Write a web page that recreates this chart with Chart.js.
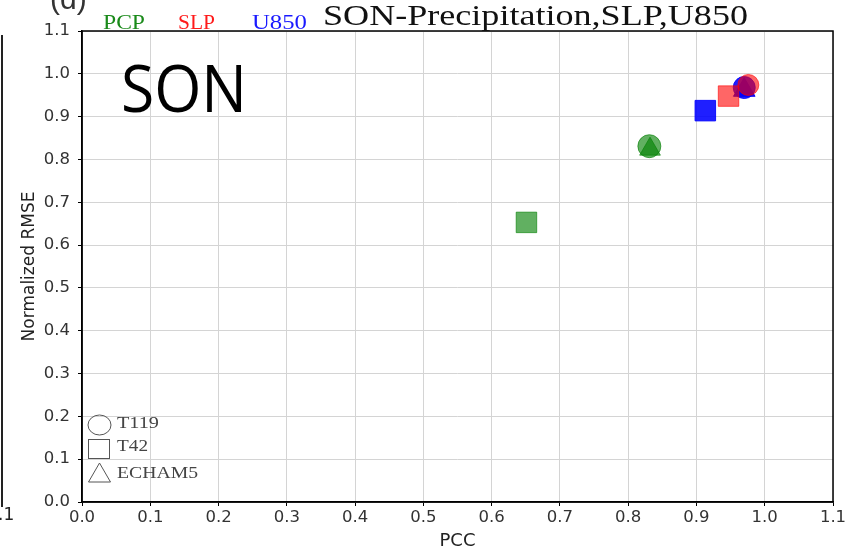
<!DOCTYPE html>
<html>
<head>
<meta charset="utf-8">
<script src="https://cdn.jsdelivr.net/npm/chart.js@4/dist/chart.umd.min.js"></script>
<style>
  html, body { margin: 0; padding: 0; background: #fff; }
  #wrap { width: 852px; height: 556px; position: relative; }
</style>
</head>
<body>
<div id="wrap"><canvas id="chart" width="852" height="556"></canvas></div>
<script>
// model order: T119, T42, ECHAM5
const models = ['T119', 'T42', 'ECHAM5'];
const modelShapes = ['circle', 'rect', 'triangle'];
const variables = ['PCP', 'SLP', 'U850'];

const pccPCP = [0.831, 0.651, 0.832];
const rmsePCP = [0.831, 0.653, 0.824];
const pccSLP = [0.976, 0.947, 0.970];
const rmseSLP = [0.974, 0.948, 0.962];
const pccU850 = [0.970, 0.913, 0.970];
const rmseU850 = [0.968, 0.914, 0.962];

const axisTicks = [0, 0.1, 0.2, 0.3, 0.4, 0.5, 0.6, 0.7, 0.8, 0.9, 1.0, 1.1];

const varColors = {
    PCP: 'rgba(0,128,0,0.62)',
    SLP: 'rgba(255,0,0,0.6)',
    U850: 'rgba(0,0,255,0.88)'
};
const textColors = { PCP: '#1a8a1a', SLP: '#ff1a1a', U850: '#1a1aff' };

function series(name, pcc, rmse, idx, radius) {
    return {
        label: name + ' ' + models[idx],
        data: [{ x: pcc[idx], y: rmse[idx] }],
        pointStyle: modelShapes[idx],
        pointRadius: radius,
        backgroundColor: varColors[name],
        borderColor: varColors[name],
        borderWidth: 1
    };
}

// drawing order follows the overlaps seen in the figure
const datasets = [
    series('PCP', pccPCP, rmsePCP, 1, 14.5),
    series('PCP', pccPCP, rmsePCP, 0, 11.5),
    series('PCP', pccPCP, rmsePCP, 2, 12),
    series('U850', pccU850, rmseU850, 1, 14.5),
    series('SLP', pccSLP, rmseSLP, 1, 14.5),
    series('SLP', pccSLP, rmseSLP, 0, 10.5),
    series('U850', pccU850, rmseU850, 0, 11),
    series('U850', pccU850, rmseU850, 2, 12.5),
    series('SLP', pccSLP, rmseSLP, 2, 11.5)
];

// draws text squeezed or stretched to a given width
function fitText(ctx, text, x, y, width) {
    const w = ctx.measureText(text).width;
    ctx.save();
    ctx.translate(x, y);
    ctx.scale(width / w, 1);
    ctx.fillText(text, 0, 0);
    ctx.restore();
}

const decorations = {
    id: 'decorations',
    afterDraw(chart) {
        const ctx = chart.ctx;
        const a = chart.chartArea;
        ctx.save();

        // frame
        ctx.strokeStyle = '#000';
        ctx.lineWidth = 1.5;
        ctx.strokeRect(a.left, a.top, a.right - a.left, a.bottom - a.top);

        // leftover bits of the neighbouring panel
        ctx.fillStyle = '#222';
        ctx.fillRect(1, 35, 2, 472);
        ctx.textAlign = 'left';
        ctx.textBaseline = 'alphabetic';
        ctx.font = '17px "DejaVu Sans", sans-serif';
        ctx.fillText('.1', -2, 520);
        ctx.font = '30px "Liberation Sans", Arial, sans-serif';
        ctx.fillStyle = '#333';
        ctx.fillText('(d)', 50, 9);

        // title
        ctx.fillStyle = '#111';
        ctx.font = '30px "Liberation Serif", "Times New Roman", serif';
        fitText(ctx, 'SON-Precipitation,SLP,U850', 323, 25, 425);

        // variable colour key
        ctx.font = '20px "Liberation Serif", "Times New Roman", serif';
        const keyX = [103, 178, 252];
        const keyW = [42, 37, 55];
        variables.forEach((v, i) => {
            ctx.fillStyle = textColors[v];
            fitText(ctx, v, keyX[i], 29, keyW[i]);
        });

        // big season label
        ctx.fillStyle = '#000';
        ctx.font = '65px "Open Sans", "Noto Sans", sans-serif';
        fitText(ctx, 'SON', 121, 112, 126);

        // model shape key
        ctx.strokeStyle = '#555';
        ctx.lineWidth = 1;
        ctx.beginPath();
        ctx.ellipse(99.5, 425, 11.5, 10, 0, 0, Math.PI * 2);
        ctx.stroke();
        ctx.strokeRect(88.5, 439.5, 21, 19);
        ctx.beginPath();
        ctx.moveTo(99.5, 463);
        ctx.lineTo(110.5, 482);
        ctx.lineTo(88.5, 482);
        ctx.closePath();
        ctx.stroke();
        ctx.fillStyle = '#444';
        ctx.font = '17px "Liberation Serif", "Times New Roman", serif';
        fitText(ctx, models[0], 117, 428, 42);
        fitText(ctx, models[1], 117, 451, 31);
        fitText(ctx, models[2], 117, 478, 81);

        ctx.restore();
    }
};

const tickFont = { family: '"DejaVu Sans", sans-serif', size: 16.5 };
const titleFont = { family: '"DejaVu Sans", sans-serif', size: 17 };

new Chart(document.getElementById('chart').getContext('2d'), {
    type: 'scatter',
    data: { datasets: datasets },
    options: {
        responsive: false,
        animation: false,
        layout: { padding: { left: 19, top: 31, right: 19, bottom: 0 } },
        plugins: {
            legend: { display: false },
            tooltip: { enabled: false }
        },
        scales: {
            x: {
                min: 0, max: 1.1,
                afterBuildTicks: s => { s.ticks = axisTicks.map(v => ({ value: v })); },
                afterFit: s => { s.height = 54; },
                ticks: {
                    color: '#333', font: tickFont, padding: 2,
                    maxRotation: 0, autoSkip: false,
                    callback: v => Number(v).toFixed(1)
                },
                grid: { color: '#d4d4d4', lineWidth: 1, tickLength: 4, tickColor: '#000' },
                border: { color: '#000', width: 1.5 },
                title: {
                    display: true, text: 'PCC', color: '#222',
                    font: { family: '"DejaVu Sans", sans-serif', size: 18 },
                    padding: { top: 3 }
                }
            },
            y: {
                min: 0, max: 1.1,
                afterBuildTicks: s => { s.ticks = axisTicks.map(v => ({ value: v })); },
                afterFit: s => { s.width = 63; },
                ticks: {
                    color: '#333', font: tickFont, padding: 8,
                    callback: v => Number(v).toFixed(1)
                },
                grid: { color: '#d4d4d4', lineWidth: 1, tickLength: 4, tickColor: '#000' },
                border: { color: '#000', width: 1.5 },
                title: {
                    display: true, text: 'Normalized RMSE', color: '#222',
                    font: titleFont,
                    padding: { top: 0, bottom: 0 }
                }
            }
        }
    },
    plugins: [decorations]
});
</script>
</body>
</html>
